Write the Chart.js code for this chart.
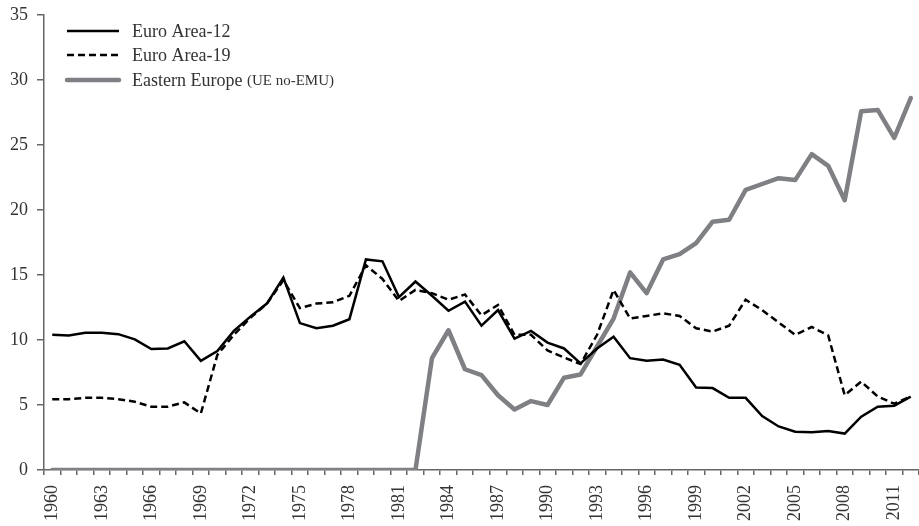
<!DOCTYPE html>
<html>
<head>
<meta charset="utf-8">
<script src="https://cdn.jsdelivr.net/npm/chart.js@4"></script>
<style>
  html, body { margin: 0; padding: 0; background: #fff; }
  #wrap { width: 919px; height: 526px; }
</style>
</head>
<body>
<div id="wrap"><canvas id="grafico"></canvas></div>
<script>
const anos = [];
for (let a = 1960; a <= 2012; a++) anos.push(String(a));

const euroArea12 = [10.4, 10.35, 10.55, 10.55, 10.45, 10.05, 9.3, 9.35, 9.9, 8.4,
  9.15, 10.7, 11.8, 12.8, 14.8, 11.3, 10.9, 11.1, 11.6, 16.2,
  16.05, 13.3, 14.5, 13.4, 12.25, 12.95, 11.1, 12.3, 10.1, 10.7,
  9.8, 9.35, 8.2, 9.35, 10.25, 8.6, 8.4, 8.5, 8.1, 6.35,
  6.3, 5.55, 5.55, 4.15, 3.35, 2.95, 2.9, 3.0, 2.8, 4.1,
  4.87, 4.95, 5.65];

const euroArea19 = [5.45, 5.45, 5.55, 5.55, 5.45, 5.25, 4.87, 4.87, 5.2, 4.35,
  8.85, 10.4, 11.7, 12.8, 14.6, 12.45, 12.8, 12.9, 13.4, 15.75,
  14.7, 13.0, 13.85, 13.6, 13.1, 13.5, 11.9, 12.7, 10.4, 10.4,
  9.2, 8.65, 8.15, 10.4, 13.85, 11.65, 11.85, 12.05, 11.85, 10.9,
  10.65, 11.1, 13.1, 12.3, 11.35, 10.4, 11.0, 10.35, 5.75, 6.8,
  5.65, 5.1, 5.65];

const easternEurope = [0, 0, 0, 0, 0, 0, 0, 0, 0, 0,
  0, 0, 0, 0, 0, 0, 0, 0, 0, 0,
  0, 0, 0, 8.6, 10.75, 7.75, 7.3, 5.75, 4.65, 5.3,
  5.0, 7.1, 7.35, 9.5, 11.65, 15.2, 13.6, 16.2, 16.6, 17.45,
  19.1, 19.25, 21.55, 22.0, 22.45, 22.3, 24.3, 23.4, 20.75, 27.6,
  27.7, 25.55, 28.6];

const yTicks = [0, 5, 10, 15, 20, 25, 30, 35];

const fonte = "'Liberation Serif', serif";
const corEixo = "#666";
const corTexto = "#333";

// legenda desenhada à mão (parte do texto em corpo menor)
const legendaPlugin = {
    id: "legendaManual",
    afterDraw(chart) {
        const ctx = chart.ctx;
        const itens = [
            { ds: 0, y: 31, partes: [["Euro Area-12", 18]] },
            { ds: 1, y: 55, partes: [["Euro Area-19", 18]] },
            { ds: 2, y: 80, partes: [["Eastern Europe ", 18], ["(UE no-EMU)", 15]] }
        ];
        ctx.save();
        itens.forEach(item => {
            const d = chart.data.datasets[item.ds];
            ctx.beginPath();
            ctx.strokeStyle = d.borderColor;
            ctx.lineWidth = d.borderWidth;
            ctx.lineCap = item.ds === 2 ? "round" : "butt";
            ctx.setLineDash(d.borderDash || []);
            ctx.moveTo(67, item.y);
            ctx.lineTo(119, item.y);
            ctx.stroke();
            ctx.setLineDash([]);
            let x = 132;
            ctx.fillStyle = corTexto;
            ctx.textBaseline = "middle";
            item.partes.forEach(([txt, tam]) => {
                ctx.font = tam + "px " + fonte;
                ctx.fillText(txt, x, item.y + 1);
                x += ctx.measureText(txt).width;
            });
        });
        ctx.restore();
    }
};

document.addEventListener("DOMContentLoaded", () => {
    const ctx = document.getElementById("grafico").getContext("2d");
    new Chart(ctx, {
        type: "line",
        data: {
            labels: anos,
            datasets: [
                {
                    label: "Euro Area-12",
                    data: euroArea12,
                    borderColor: "#000",
                    borderWidth: 2.5,
                    pointRadius: 0,
                    tension: 0
                },
                {
                    label: "Euro Area-19",
                    data: euroArea19,
                    borderColor: "#000",
                    borderWidth: 2.5,
                    borderDash: [7, 4],
                    pointRadius: 0,
                    tension: 0
                },
                {
                    label: "Eastern Europe (UE no-EMU)",
                    data: easternEurope,
                    borderColor: "#7e8083",
                    borderWidth: 4.5,
                    borderCapStyle: "round",
                    borderJoinStyle: "round",
                    pointRadius: 0,
                    tension: 0
                }
            ]
        },
        options: {
            responsive: true,
            maintainAspectRatio: false,
            animation: false,
            layout: { padding: { top: 15, right: 0, left: 0, bottom: 0 } },
            plugins: {
                legend: { display: false },
                tooltip: { enabled: false }
            },
            scales: {
                x: {
                    type: "category",
                    offset: true,
                    afterFit: s => {
                        s.height = 56;
                        s.paddingLeft = 0;
                        s.paddingRight = 0;
                    },
                    grid: {
                        offset: true,
                        drawOnChartArea: false,
                        drawTicks: true,
                        tickLength: 5,
                        color: corEixo,
                        lineWidth: 1.5
                    },
                    border: { color: corEixo, width: 1.5 },
                    ticks: {
                        autoSkip: false,
                        minRotation: 90,
                        maxRotation: 90,
                        padding: 10,
                        color: corTexto,
                        font: { family: fonte, size: 18 },
                        callback: function (value) {
                            const ano = Number(this.getLabelForValue(value));
                            return (ano - 1960) % 3 === 0 ? String(ano) : "";
                        }
                    }
                },
                y: {
                    min: 0,
                    max: 35,
                    afterFit: s => {
                        s.width = 44;
                        s.paddingTop = 0;
                        s.paddingBottom = 0;
                    },
                    afterBuildTicks: s => { s.ticks = yTicks.map(v => ({ value: v })); },
                    grid: {
                        drawOnChartArea: false,
                        drawTicks: true,
                        tickLength: 7,
                        color: corEixo,
                        lineWidth: 1.5
                    },
                    border: { color: corEixo, width: 1.5 },
                    ticks: {
                        padding: 9,
                        color: corTexto,
                        font: { family: fonte, size: 18 }
                    }
                }
            }
        },
        plugins: [legendaPlugin]
    });
});
</script>
</body>
</html>
